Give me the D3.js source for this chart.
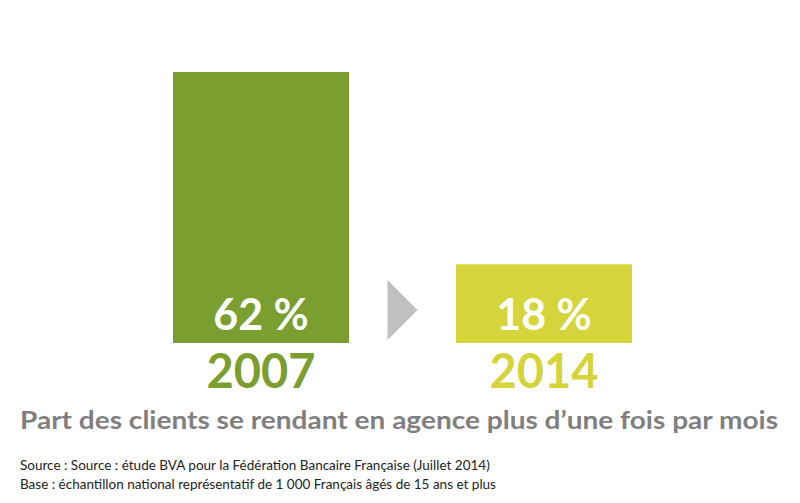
<!DOCTYPE html>
<html><head><meta charset="utf-8">
<script src="https://cdn.jsdelivr.net/npm/d3@7"></script>
<style>body{margin:0;background:#fff}</style></head>
<body><svg id="chart" width="800" height="503"></svg>
<script>
// data
var years = ["2007", "2014"];
var values = [62, 18];
var colors = ["#7a9e2f", "#d5d43a"];
var title = "Part des clients se rendant en agence plus d\u2019une fois par mois";
var notes = ["Source : Source : \u00e9tude BVA pour la F\u00e9d\u00e9ration Bancaire Fran\u00e7aise (Juillet 2014)",
             "Base :  \u00e9chantillon national repr\u00e9sentatif de 1 000 Fran\u00e7ais \u00e2g\u00e9s de 15 ans et plus"];

var svg = d3.select("#chart");
var x = d3.scaleBand().domain(years).range([173, 632]).paddingInner(0.378).paddingOuter(0);
var y = d3.scaleLinear().domain([0, 62]).range([343, 72]);

svg.selectAll("rect.bar").data(values).enter().append("rect")
    .attr("x", (d,i)=>x(years[i])).attr("width", x.bandwidth())
    .attr("y", d=>y(d)).attr("height", d=>y(0)-y(d))
    .attr("fill", (d,i)=>colors[i]);

svg.selectAll("text.val").data(values).enter().append("text")
    .attr("x", (d,i)=>x(years[i])+x.bandwidth()/2).attr("y", 330)
    .attr("text-anchor","middle").attr("fill","#fff")
    .style("font", "bold 43px Lato, sans-serif")
    .text(d=>d+" %");

svg.selectAll("text.yr").data(years).enter().append("text")
    .attr("x", d=>x(d)+x.bandwidth()/2).attr("y", 388)
    .attr("text-anchor","middle").attr("fill",(d,i)=>colors[i])
    .style("font", "bold 47px Lato, sans-serif")
    .text(d=>d);

// arrow between the bars
var ax = (x(years[0])+x.bandwidth()+x(years[1]))/2;
svg.append("path").attr("d", "M"+(ax-15)+",280 L"+(ax+15)+",310 L"+(ax-15)+",340 Z").attr("fill","#c0c0c0");

svg.append("text").attr("x", 20).attr("y", 429).attr("fill","#7f7f7f")
    .attr("textLength", 758).attr("lengthAdjust","spacingAndGlyphs")
    .style("font","bold 24px Lato, sans-serif").text(title);

svg.selectAll("text.note").data(notes).enter().append("text")
    .attr("x", 20).attr("y", (d,i)=>470+i*19).attr("fill","#222")
    .style("font","13.5px Lato, sans-serif").text(d=>d);
</script></body></html>
